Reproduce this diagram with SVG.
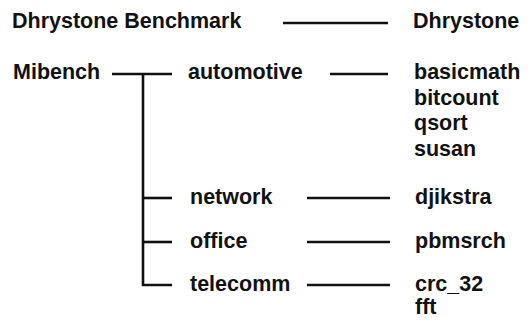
<svg xmlns="http://www.w3.org/2000/svg" width="529" height="320" viewBox="0 0 529 320">
<style>
text{font-family:"Liberation Sans",Arial,sans-serif;font-weight:bold;font-size:21.5px;fill:#111}
.c{stroke:#111;stroke-width:2.6;fill:none;stroke-linecap:butt}
</style>
<rect width="529" height="320" fill="#fff"/>
<g id="connectors">
<line class="c" x1="283" y1="23" x2="388" y2="23"/>
<line class="c" x1="112" y1="74" x2="172" y2="74"/>
<path class="c" d="M143 74 V285 H172"/>
<line class="c" x1="143" y1="198" x2="172" y2="198"/>
<line class="c" x1="143" y1="242" x2="172" y2="242"/>
<line class="c" x1="330" y1="74" x2="388" y2="74"/>
<line class="c" x1="307" y1="198" x2="390" y2="198"/>
<line class="c" x1="307" y1="242" x2="390" y2="242"/>
<line class="c" x1="307" y1="285" x2="390" y2="285"/>
</g>
<g id="dhrystone-benchmark"><text x="12" y="28">Dhrystone Benchmark</text></g>
<g id="dhrystone"><text x="413" y="28">Dhrystone</text></g>
<g id="mibench"><text x="13" y="79">Mibench</text></g>
<g id="automotive"><text x="188" y="79">automotive</text></g>
<g id="automotive-benchmarks">
<text x="414" y="79">basicmath</text>
<text x="414" y="105">bitcount</text>
<text x="414" y="130">qsort</text>
<text x="414" y="156">susan</text>
</g>
<g id="network"><text x="190" y="204">network</text></g>
<g id="djikstra"><text x="415" y="204">djikstra</text></g>
<g id="office"><text x="190" y="248">office</text></g>
<g id="pbmsrch"><text x="415" y="248">pbmsrch</text></g>
<g id="telecomm"><text x="190" y="291">telecomm</text></g>
<g id="telecomm-benchmarks">
<text x="415" y="291">crc_32</text>
<text x="415" y="314">fft</text>
</g>
</svg>
